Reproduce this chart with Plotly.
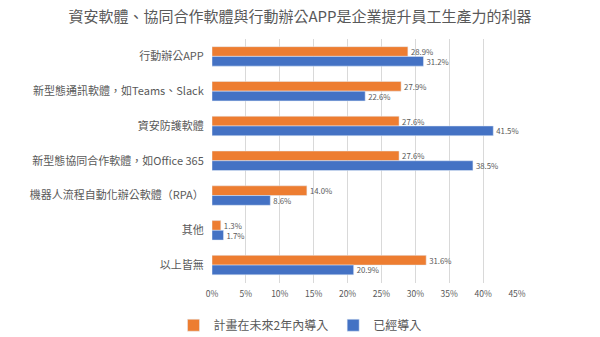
import plotly.graph_objects as go

categories = ["行動辦公APP", "新型態通訊軟體，如Teams、Slack", "資安防護軟體",
              "新型態協同合作軟體，如Office 365", "機器人流程自動化辦公軟體（RPA）", "其他", "以上皆無"]
plan_2y = [28.9, 27.9, 27.6, 27.6, 14.0, 1.3, 31.6]
adopted = [31.2, 22.6, 41.5, 38.5, 8.6, 1.7, 20.9]
tick_vals = [0, 5, 10, 15, 20, 25, 30, 35, 40, 45]
tick_text = [f"{v}%" for v in tick_vals]
series_names = ["計畫在未來2年內導入", "已經導入"]

FONT = "Noto Sans CJK TC, Noto Sans, sans-serif"
GRAY = "#595959"

fig = go.Figure()
fig.add_trace(go.Bar(y=categories, x=plan_2y, orientation="h", name=series_names[0],
                     marker=dict(color="#ED7D31"),
                     text=[f"{v:.1f}%" for v in plan_2y], textposition="outside",
                     constraintext="none",
                     textfont=dict(size=7.8, color=GRAY), cliponaxis=False))
fig.add_trace(go.Bar(y=categories, x=adopted, orientation="h", name=series_names[1],
                     marker=dict(color="#4472C4"),
                     text=[f"{v:.1f}%" for v in adopted], textposition="outside",
                     constraintext="none",
                     textfont=dict(size=7.8, color=GRAY), cliponaxis=False))

fig.update_layout(
    width=600, height=337,
    margin=dict(l=212, r=83, t=39, b=46),
    paper_bgcolor="white", plot_bgcolor="white",
    font=dict(family=FONT, color=GRAY),
    title=dict(text="資安軟體、協同合作軟體與行動辦公APP是企業提升員工生產力的利器",
               x=0.5, xref="container", xanchor="center", y=0.95, yanchor="middle",
               font=dict(size=15, color=GRAY, family=FONT)),
    barmode="group", bargap=0.44, bargroupgap=0,
    showlegend=True,
    legend=dict(orientation="h", x=0.5, xanchor="center", xref="container",
                y=0.035, yref="container", yanchor="middle", itemwidth=30,
                font=dict(size=12, color=GRAY), traceorder="normal"),
    xaxis=dict(range=[0, 45], tickvals=tick_vals, ticktext=tick_text,
               showgrid=True, gridcolor="#D9D9D9", gridwidth=1, zeroline=False,
               tickfont=dict(size=8.5, color=GRAY), ticks="outside", ticklen=3,
               tickcolor="rgba(0,0,0,0)", showline=False),
    yaxis=dict(autorange="reversed", tickfont=dict(size=11, color=GRAY),
               ticks="outside", ticklen=5, tickcolor="rgba(0,0,0,0)", showline=False),
)

fig.write_html("out.html")
